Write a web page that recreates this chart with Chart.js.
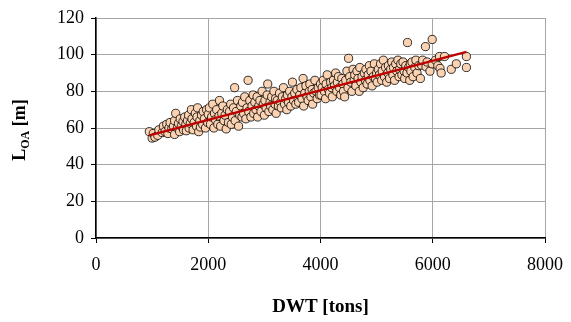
<!DOCTYPE html>
<html>
<head>
<meta charset="utf-8">
<script src="https://cdn.jsdelivr.net/npm/chart.js@4.4.1/dist/chart.umd.min.js"></script>
<style>
  html, body { margin: 0; padding: 0; background: #fff; }
  #wrap { width: 571px; height: 322px; position: relative; }
</style>
</head>
<body>
<div id="wrap"><canvas id="chart" width="571" height="322"></canvas></div>
<script>
// ── DATA ──

// ship deadweight (tons)
const dwt = [
  950, 1000, 1020, 1050, 1100, 1120, 1180, 1200,
  1230, 1260, 1280, 1300, 1320, 1350, 1380, 1400, 1400,
  1420, 1450, 1470, 1490, 1500, 1520, 1550, 1560, 1580, 1600,
  1610, 1630, 1650, 1660, 1680, 1700, 1710, 1730, 1750, 1770, 1790, 1800,
  1810, 1830, 1850, 1860, 1880, 1900, 1910, 1930, 1950, 1970, 1990, 2000,
  2020, 2040, 2060, 2080, 2100, 2110, 2130, 2150, 2170, 2190, 2200,
  2220, 2240, 2260, 2280, 2300, 2320, 2340, 2360, 2380, 2400,
  2410, 2430, 2450, 2470, 2480, 2500, 2520, 2540, 2560, 2580, 2600,
  2610, 2630, 2650, 2670, 2690, 2710, 2720, 2740, 2760, 2780, 2800,
  2810, 2830, 2850, 2870, 2880, 2900, 2920, 2940, 2960, 2980, 3000,
  3010, 3030, 3050, 3060, 3080, 3100, 3110, 3130, 3150, 3170, 3190, 3200,
  3210, 3230, 3250, 3270, 3290, 3300, 3320, 3340, 3360, 3380, 3400,
  3410, 3430, 3450, 3470, 3490, 3500, 3520, 3540, 3560, 3580, 3600,
  3610, 3630, 3650, 3670, 3690, 3700, 3720, 3740, 3760, 3780, 3800,
  3810, 3830, 3850, 3860, 3880, 3900, 3920, 3940, 3960, 3980, 4000,
  4010, 4030, 4050, 4070, 4090, 4100, 4120, 4140, 4160, 4180, 4200,
  4210, 4230, 4250, 4270, 4290, 4300, 4320, 4340, 4360, 4380, 4400,
  4410, 4430, 4450, 4470, 4490, 4500, 4520, 4540, 4560, 4580, 4600,
  4610, 4630, 4650, 4670, 4690, 4700, 4720, 4740, 4760, 4780, 4800,
  4810, 4830, 4850, 4870, 4880, 4900, 4920, 4940, 4960, 4980, 5000,
  5010, 5030, 5050, 5070, 5090, 5100, 5120, 5140, 5160, 5180, 5200,
  5210, 5230, 5250, 5270, 5290, 5300, 5320, 5340, 5360, 5380, 5400,
  5410, 5430, 5450, 5470, 5490, 5500, 5520, 5540, 5550, 5570, 5590, 5600,
  5610, 5630, 5650, 5680, 5700, 5720, 5750, 5780, 5800,
  5820, 5870, 5880, 5900, 5950, 5990, 5990, 6050, 6090, 6120, 6130, 6150,
  6210, 6330, 6420, 6600, 6600
];

// length overall (m), same order as dwt
const loa = [
  58, 54.5, 57, 55, 56, 59, 57.5, 61,
  58, 62, 57, 60, 63, 59.5, 61, 56.5, 64,
  68, 60, 62.5, 58, 65, 61, 63.5, 59, 66, 62,
  58.5, 64, 67, 60, 62.5, 70, 65, 59, 63, 68, 61, 66,
  71, 58, 64, 60.5, 67, 62, 69, 65, 60, 70, 63, 67.5,
  71, 62, 66, 73, 60, 68, 64.5, 70, 62, 66.5, 75,
  61, 68, 72, 64, 67, 59.5, 70, 63, 69, 73,
  62, 66, 71, 82, 64, 69, 75, 61, 67, 72, 66,
  74, 68, 77, 65, 71, 86, 69, 75, 66, 72, 78,
  68, 74, 70, 77, 66, 72, 75, 69, 80, 73, 67,
  75, 71, 78, 84, 69, 74, 72, 77, 70, 80, 73, 76,
  68, 75, 72, 79, 74, 71, 77, 82, 73, 76, 70,
  78, 74, 80, 72, 77, 85, 75, 79, 73, 81, 76,
  74, 78, 82, 76, 87, 72, 79, 83, 77, 75, 80,
  84, 77, 81, 73, 79, 86, 80, 76, 82, 78, 84,
  78, 82, 86, 80, 76, 84, 89, 81, 79, 85, 82,
  77, 86, 83, 90, 80, 85, 88, 82, 78, 87, 84,
  80, 77, 86, 91, 82, 98, 88, 85, 80, 92, 86,
  89, 83, 91, 87, 80, 93, 85, 88, 82, 90, 86,
  92, 84, 89, 94, 86, 91, 83, 88, 95, 87, 90,
  85, 92, 89, 95, 86, 91, 97, 88, 93, 85, 90,
  94, 87, 92, 96, 89, 93, 86, 95, 91, 97, 88,
  92, 95, 89, 96, 91, 87, 94, 90, 106.6, 93, 86, 95,
  91, 96, 88, 93, 97, 90, 94, 87, 94.3,
  97, 104.4, 93.4, 96, 91, 108.3, 95, 97, 94, 99, 92.5, 90,
  99, 92, 95, 99, 93
];

// linear trend line end points
const trendX = [950, 6600];
const trendY = [56, 101.5];

const xTicks = [0, 2000, 4000, 6000, 8000];
const yTicks = [0, 20, 40, 60, 80, 100, 120];

const xTitle = 'DWT [tons]';
const yTitleMain = 'L';
const yTitleSub = 'OA';
const yTitleTail = ' [m]';

// ── CHART ──

const FONT = '"Liberation Serif", "Times New Roman", serif';

const scatterPts = dwt.map((x, i) => ({ x, y: loa[i] }));
const trendPts = trendX.map((x, i) => ({ x, y: trendY[i] }));

// axis titles (y title needs a subscript, so both are drawn by hand)
const titlesPlugin = {
  id: 'titles',
  afterDraw(chart) {
    const { ctx, chartArea } = chart;
    ctx.save();
    ctx.fillStyle = '#000';
    ctx.textBaseline = 'alphabetic';

    // x title
    ctx.font = 'bold 19px ' + FONT;
    ctx.textAlign = 'center';
    ctx.fillText(xTitle, (chartArea.left + chartArea.right) / 2, 312);

    // y title, rotated
    const big = 'bold 18px ' + FONT;
    const small = 'bold 12px ' + FONT;
    ctx.font = big;
    const wL = ctx.measureText(yTitleMain).width;
    const wT = ctx.measureText(yTitleTail).width;
    ctx.font = small;
    const wS = ctx.measureText(yTitleSub).width;
    const total = wL + wS + wT;

    ctx.translate(25, (chartArea.top + chartArea.bottom) / 2 + 2);
    ctx.rotate(-Math.PI / 2);
    ctx.textAlign = 'left';
    let x = -total / 2;
    ctx.font = big;
    ctx.fillText(yTitleMain, x, 0);
    x += wL;
    ctx.font = small;
    ctx.fillText(yTitleSub, x, 4);
    x += wS;
    ctx.font = big;
    ctx.fillText(yTitleTail, x, 0);
    ctx.restore();
  }
};

new Chart(document.getElementById('chart'), {
  type: 'scatter',
  data: {
    datasets: [
      {
        label: 'trend',
        type: 'line',
        data: trendPts,
        borderColor: '#c00000',
        borderWidth: 2.25,
        pointRadius: 0,
        fill: false,
        order: 0,
      },
      {
        label: 'ships',
        data: scatterPts,
        backgroundColor: '#fcd3b2',
        borderColor: '#000',
        borderWidth: 0.8,
        pointRadius: 4.1,
        order: 1,
      }
    ]
  },
  options: {
    responsive: false,
    animation: false,
    devicePixelRatio: 1,
    layout: { padding: { top: 18, right: 26, left: 0, bottom: 0 } },
    plugins: {
      legend: { display: false },
      tooltip: { enabled: false },
    },
    scales: {
      x: {
        type: 'linear',
        min: 0,
        max: 8000,
        afterBuildTicks: s => { s.ticks = xTicks.map(v => ({ value: v })); },
        afterFit: s => { s.height = 84; s.paddingLeft = 0; s.paddingRight = 0; },
        ticks: { color: '#000', font: { family: FONT, size: 18 }, padding: 11, callback: v => String(v) },
        grid: { color: '#a6a6a6', lineWidth: 1, tickLength: 5, tickColor: '#000' },
        border: { color: '#000', width: 1.5 },
      },
      y: {
        type: 'linear',
        min: 0,
        max: 120,
        afterBuildTicks: s => { s.ticks = yTicks.map(v => ({ value: v })); },
        afterFit: s => { s.width = 96; s.paddingTop = 0; s.paddingBottom = 0; },
        ticks: { color: '#000', font: { family: FONT, size: 18 }, padding: 7, callback: v => String(v) },
        grid: { color: '#a6a6a6', lineWidth: 1, tickLength: 5, tickColor: '#000' },
        border: { color: '#000', width: 1.5 },
      }
    }
  },
  plugins: [titlesPlugin]
});
</script>
</body>
</html>
